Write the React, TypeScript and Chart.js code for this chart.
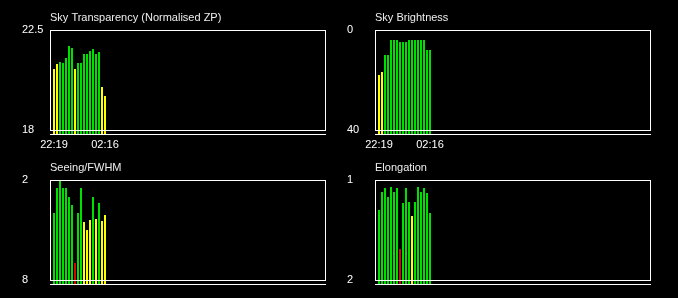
import React, { useEffect, useRef } from "react";
import { Chart, registerables } from "chart.js";

Chart.register(...registerables);

// ---- data ----
const timeLabels = ["22:19", "02:16"];
const timeLabelIndex = [0, 17];

const transparency = [20.75, 20.97, 21.06, 21.02, 21.24, 21.78, 21.69, 20.75, 21.02, 21.02, 21.42, 21.42, 21.56, 21.65, 21.42, 21.51, 19.94, 19.53];
const transparencyFlags = ["warn", "warn", "good", "good", "good", "good", "good", "warn", "good", "good", "good", "good", "good", "good", "good", "good", "warn", "warn"];

const skyBrightness = [18, 16.8, 10, 10, 4, 4, 4, 4.8, 4.8, 4.8, 4, 4, 4, 4, 4, 4, 8, 8];
const skyBrightnessFlags = ["warn", "warn", "good", "good", "good", "good", "good", "good", "good", "good", "good", "good", "good", "good", "good", "good", "good", "good"];

const seeing = [3.98, 2.48, 2.0, 2.48, 2.48, 3.02, 3.5, 6.98, 3.98, 2.48, 4.52, 5.0, 4.4, 3.02, 4.34, 3.38, 4.46, 4.1];
const seeingFlags = ["good", "good", "good", "good", "good", "good", "good", "bad", "good", "good", "warn", "warn", "warn", "good", "warn", "good", "warn", "warn"];

const elongation = [1.3, 1.12, 1.08, 1.17, 1.07, 1.12, 1.08, 1.69, 1.23, 1.08, 1.22, 1.36, 1.22, 1.07, 1.12, 1.08, 1.13, 1.33];
const elongationFlags = ["good", "good", "good", "good", "good", "good", "good", "bad", "good", "good", "good", "warn", "good", "good", "good", "good", "good", "good"];

// axis end labels [top, bottom]
const transparencyRange = [22.5, 18];
const skyBrightnessRange = [0, 40];
const seeingRange = [2, 8];
const elongationRange = [1, 2];

const FLAG_COLORS: Record<string, string> = {
  good: "#00e000",
  warn: "#ffff00",
  bad: "#e00000",
};

const FONT = "'Liberation Sans', Arial, sans-serif";

type PanelProps = {
  title: string;
  values: number[];
  flags: string[];
  range: number[];
  showTimes: boolean;
  left: number;
  top: number;
};

function Panel({ title, values, flags, range, showTimes, left, top }: PanelProps) {
  const ref = useRef<HTMLCanvasElement | null>(null);

  useEffect(() => {
    if (!ref.current) return;
    const [topVal, bottomVal] = range;
    const ext = bottomVal + (bottomVal - topVal) * 0.05;
    const reversed = topVal < bottomVal;
    const yMin = reversed ? topVal : ext;
    const yMax = reversed ? ext : topVal;
    const xMin = -4 / 3;

    const boxPlugin = {
      id: "panelBox",
      afterDatasetsDraw(chart: any) {
        const { ctx, chartArea, scales } = chart;
        const ys = scales.y;
        const t = Math.round(ys.getPixelForValue(topVal));
        const b = Math.round(ys.getPixelForValue(bottomVal));
        const l = chartArea.left;
        const r = chartArea.right;
        ctx.save();
        ctx.strokeStyle = "#ffffff";
        ctx.lineWidth = 1;
        ctx.strokeRect(l + 0.5, t + 0.5, r - l - 1, b - t);
        ctx.beginPath();
        ctx.moveTo(l, chartArea.bottom - 0.5);
        ctx.lineTo(r, chartArea.bottom - 0.5);
        ctx.stroke();
        ctx.restore();
      },
    };

    const chart = new Chart(ref.current, {
      type: "bar",
      data: {
        datasets: [
          {
            data: values.map((v, i) => ({ x: i, y: v })),
            backgroundColor: flags.map((f) => FLAG_COLORS[f]),
            borderWidth: 0,
            barThickness: 2,
            inflateAmount: 0,
            base: ext,
          } as any,
        ],
      },
      options: {
        responsive: false,
        animation: false,
        devicePixelRatio: 1,
        layout: { padding: { left: 22, right: 13, top: 12, bottom: 0 } },
        plugins: {
          legend: { display: false },
          tooltip: { enabled: false },
          title: {
            display: true,
            text: title,
            align: "start",
            fullSize: false,
            color: "#eeeeee",
            font: { size: 11, family: FONT, weight: "normal", lineHeight: 1 },
            padding: { top: 0, bottom: 7 },
          },
        },
        scales: {
          x: {
            type: "linear",
            min: xMin,
            max: xMin + 92,
            offset: false,
            grid: { display: false, drawTicks: false },
            border: { display: false },
            afterBuildTicks: (s: any) => {
              s.ticks = timeLabelIndex.map((v) => ({ value: v }));
            },
            afterFit: (s: any) => {
              s.height = 15;
            },
            ticks: {
              display: showTimes,
              autoSkip: false,
              maxRotation: 0,
              padding: 3,
              color: "#ffffff",
              font: { size: 11, family: FONT },
              callback: (v: any) => {
                const k = timeLabelIndex.indexOf(Number(v));
                return k >= 0 ? timeLabels[k] : "";
              },
            },
          },
          y: {
            type: "linear",
            min: yMin,
            max: yMax,
            reverse: reversed,
            grid: { display: false, drawTicks: false },
            border: { display: false },
            afterBuildTicks: (s: any) => {
              s.ticks = [{ value: topVal }, { value: bottomVal }];
            },
            afterFit: (s: any) => {
              s.width = 28;
            },
            ticks: {
              crossAlign: "far",
              padding: 0,
              color: "#ffffff",
              font: { size: 11, family: FONT },
              callback: (v: any) => String(v),
            },
          },
        },
      },
      plugins: [boxPlugin],
    } as any);
    return () => chart.destroy();
  }, [title, values, flags, range, showTimes]);

  return (
    <canvas
      ref={ref}
      width={339}
      height={150}
      style={{ position: "absolute", left, top, width: 339, height: 150 }}
    />
  );
}

export default function App() {
  return (
    <div
      style={{
        position: "fixed",
        left: 0,
        top: 0,
        width: 678,
        height: 298,
        background: "#000000",
        overflow: "hidden",
      }}
    >
      <Panel title="Sky Transparency (Normalised ZP)" values={transparency} flags={transparencyFlags} range={transparencyRange} showTimes={true} left={0} top={0} />
      <Panel title="Sky Brightness" values={skyBrightness} flags={skyBrightnessFlags} range={skyBrightnessRange} showTimes={true} left={325} top={0} />
      <Panel title="Seeing/FWHM" values={seeing} flags={seeingFlags} range={seeingRange} showTimes={false} left={0} top={150} />
      <Panel title="Elongation" values={elongation} flags={elongationFlags} range={elongationRange} showTimes={false} left={325} top={150} />
    </div>
  );
}
